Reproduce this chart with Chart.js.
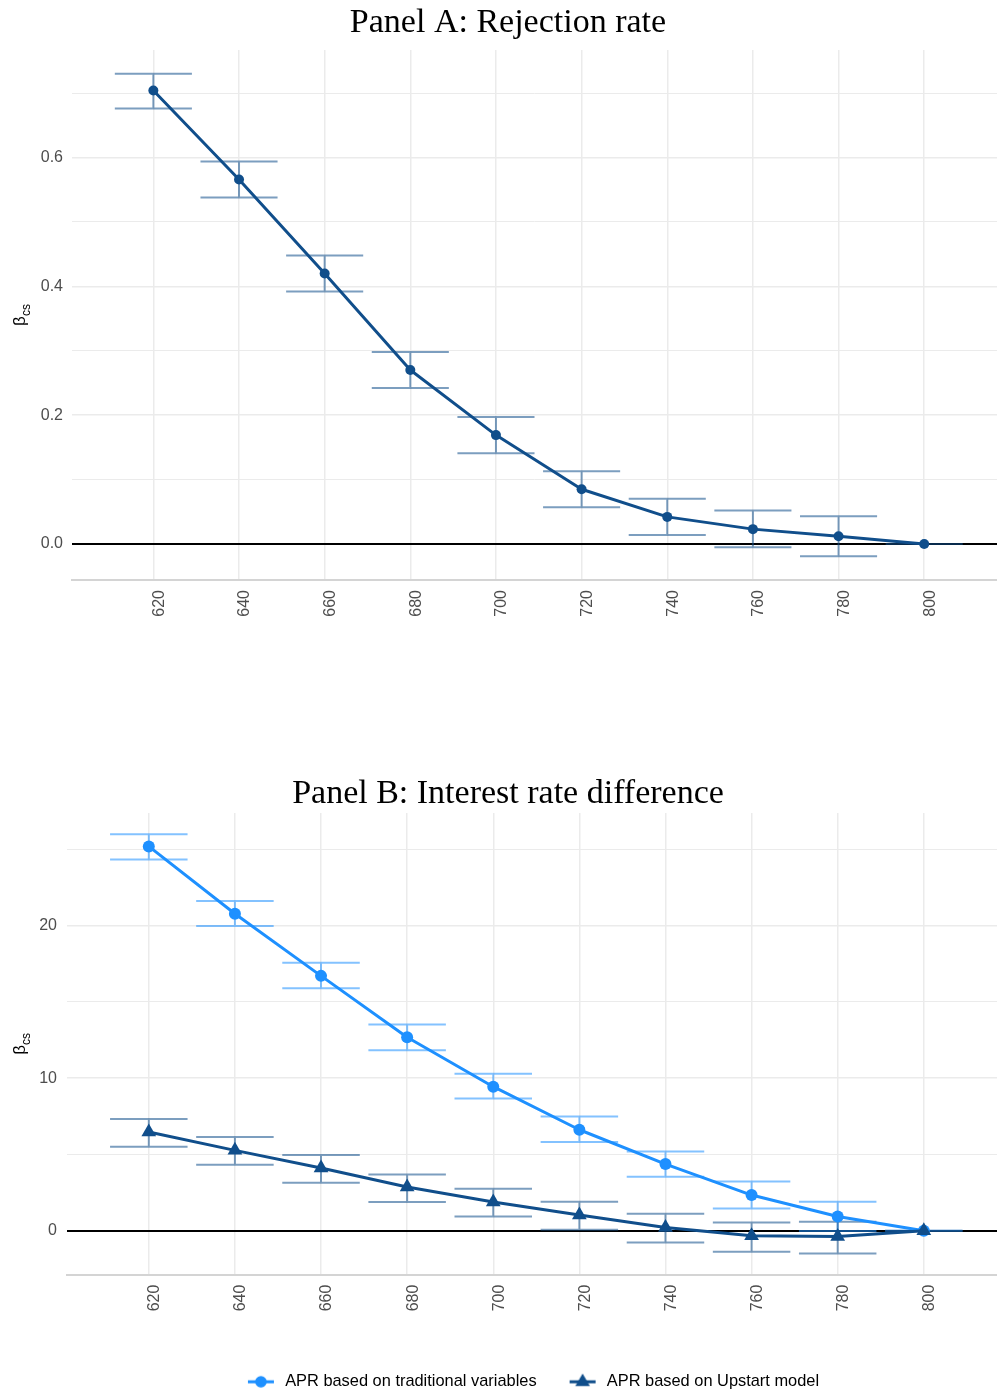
<!DOCTYPE html>
<html>
<head>
<meta charset="utf-8">
<script src="https://cdn.jsdelivr.net/npm/chart.js@4.4.1/dist/chart.umd.min.js"></script>
<style>
  html, body { margin: 0; padding: 0; background: #fff; overflow: hidden; width: 997px; height: 1390px; }
  canvas { position: absolute; left: 0; }
  #panelA { top: 0; }
  #panelB { top: 770px; }
</style>
</head>
<body>
<canvas id="panelA" width="997" height="660"></canvas>
<canvas id="panelB" width="997" height="630"></canvas>
<script>
// Credit score bins (x axis)
const creditScores = [620, 640, 660, 680, 700, 720, 740, 760, 780, 800];

// Panel A: rejection rate coefficients and confidence bounds
const rejectEst = [0.704, 0.566, 0.420, 0.270, 0.169, 0.085, 0.042, 0.023, 0.012, 0];
const rejectLo  = [0.676, 0.538, 0.392, 0.242, 0.141, 0.057, 0.014, -0.005, -0.019, 0];
const rejectHi  = [0.730, 0.594, 0.448, 0.298, 0.197, 0.113, 0.070, 0.052, 0.043, 0];

// Panel B: interest rate difference, traditional-variable APR
const tradEst = [25.18, 20.77, 16.70, 12.68, 9.44, 6.62, 4.37, 2.34, 0.94, 0];
const tradLo  = [24.33, 19.97, 15.89, 11.82, 8.66, 5.82, 3.54, 1.46, -0.02, 0];
const tradHi  = [25.97, 21.60, 17.56, 13.51, 10.28, 7.48, 5.20, 3.23, 1.90, 0];

// Panel B: interest rate difference, Upstart-model APR
const upEst = [6.47, 5.27, 4.11, 2.87, 1.88, 1.03, 0.22, -0.33, -0.37, 0];
const upLo  = [5.51, 4.33, 3.15, 1.88, 0.94, 0.07, -0.77, -1.38, -1.49, 0];
const upHi  = [7.32, 6.14, 4.96, 3.69, 2.75, 1.90, 1.11, 0.55, 0.59, 0];

const seriesNames = ['APR based on traditional variables', 'APR based on Upstart model'];

// Y tick values and labels (blank label = minor grid line)
const yTicksA  = [0, 0.1, 0.2, 0.3, 0.4, 0.5, 0.6, 0.7];
const yLabelsA = ['0.0', '', '0.2', '', '0.4', '', '0.6', ''];
const yTicksB  = [0, 5, 10, 15, 20, 25];
const yLabelsB = ['0', '', '10', '', '20', ''];

// ---- styling ----
const DARK = '#104E8B';
const LIGHT = '#1E90FF';
const DARK_ERR = 'rgba(16,78,139,0.55)';
const LIGHT_ERR = 'rgba(30,144,255,0.55)';
const GRID = '#ebebeb';
const TICK_COLOR = '#4d4d4d';
const SANS = 'Liberation Sans';
const ERR_HALF = 9; // half-width of error bar caps, in score units

function seriesPoints(est) {
  return creditScores.map((s, i) => ({ x: s, y: est[i] }));
}

// Error bars as broken line paths: top cap, stem, bottom cap
function errorBarPoints(lo, hi) {
  const pts = [];
  creditScores.forEach((s, i) => {
    pts.push({ x: s - ERR_HALF, y: hi[i] }, { x: s + ERR_HALF, y: hi[i] }, { x: s, y: null });
    pts.push({ x: s, y: hi[i] }, { x: s, y: lo[i] }, { x: s, y: null });
    pts.push({ x: s - ERR_HALF, y: lo[i] }, { x: s + ERR_HALF, y: lo[i] }, { x: s, y: null });
  });
  return pts;
}

function legendIcon(color, shape) {
  const c = document.createElement('canvas');
  c.width = 30; c.height = 18;
  const g = c.getContext('2d');
  g.strokeStyle = color; g.lineWidth = 3;
  g.beginPath(); g.moveTo(2, 9); g.lineTo(28, 9); g.stroke();
  g.fillStyle = color; g.beginPath();
  if (shape === 'circle') {
    g.arc(15, 9, 5.8, 0, Math.PI * 2);
  } else {
    g.moveTo(15, 0.8); g.lineTo(22.3, 13.3); g.lineTo(7.7, 13.3); g.closePath();
  }
  g.fill();
  return c;
}

function xScaleOpts(axisHeight) {
  return {
    type: 'linear', min: 601, max: 817,
    afterBuildTicks: s => { s.ticks = creditScores.map(v => ({ value: v })); },
    afterFit: s => { s.height = axisHeight; s.paddingLeft = 0; s.paddingRight = 0; },
    grid: { color: GRID, lineWidth: 1.5, drawTicks: false },
    border: { display: true, color: '#d4d4d4', width: 2 },
    ticks: {
      autoSkip: false, minRotation: 90, maxRotation: 90, padding: 10, labelOffset: 6,
      color: TICK_COLOR, font: { family: SANS, size: 16 },
      callback: v => String(v)
    }
  };
}

function yScaleOpts(min, max, ticks, labels, width, pad) {
  return {
    type: 'linear', min, max,
    afterBuildTicks: s => { s.ticks = ticks.map(v => ({ value: v })); },
    afterFit: s => { s.width = width; s.paddingTop = 0; s.paddingBottom = 0; },
    grid: {
      drawTicks: false,
      color: c => (c.tick && c.tick.value === 0) ? '#000' : GRID,
      lineWidth: c => (c.tick && c.tick.value === 0) ? 2 : (labels[c.index] ? 1.5 : 1)
    },
    border: { display: false },
    ticks: {
      padding: pad, color: TICK_COLOR, font: { family: SANS, size: 16 },
      callback: (v, i) => labels[i]
    }
  };
}

// Panel heading and the rotated beta_cs axis label
const panelText = {
  id: 'panelText',
  afterDraw(chart, args, opts) {
    const ctx = chart.ctx;
    ctx.save();
    ctx.fillStyle = '#000';
    ctx.font = '34px "Liberation Serif"';
    ctx.textAlign = 'center';
    ctx.textBaseline = 'alphabetic';
    ctx.fillText(opts.title, opts.titleX, opts.titleY);

    const a = chart.chartArea;
    ctx.translate(opts.labelX, (a.top + a.bottom) / 2);
    ctx.rotate(-Math.PI / 2);
    ctx.textAlign = 'left';
    ctx.font = '17px "Liberation Sans"';
    const wB = ctx.measureText('β').width;
    ctx.font = '12px "Liberation Sans"';
    const wS = ctx.measureText('cs').width;
    const start = -(wB + wS) / 2;
    ctx.font = '17px "Liberation Sans"';
    ctx.fillText('β', start, 4);
    ctx.font = '12px "Liberation Sans"';
    ctx.fillText('cs', start + wB, 9);
    ctx.restore();
  }
};

const lineStyle = { showLine: true, borderWidth: 3, borderJoinStyle: 'round', pointBorderWidth: 0, pointHoverRadius: 0 };
const errStyle = { showLine: true, borderWidth: 2, pointRadius: 0, pointHoverRadius: 0 };

// ---- Panel A ----
new Chart(document.getElementById('panelA'), {
  type: 'scatter',
  data: {
    datasets: [
      Object.assign({ data: seriesPoints(rejectEst), borderColor: DARK, backgroundColor: DARK, pointRadius: 5, order: 1 }, lineStyle),
      Object.assign({ data: errorBarPoints(rejectLo, rejectHi), borderColor: DARK_ERR, order: 2 }, errStyle)
    ]
  },
  options: {
    responsive: false, animation: false, events: [],
    layout: { autoPadding: false, padding: { top: 50, left: 0, right: 0, bottom: 0 } },
    scales: {
      x: xScaleOpts(80),
      y: yScaleOpts(-0.056, 0.767, yTicksA, yLabelsA, 72, 9)
    },
    plugins: {
      legend: { display: false },
      tooltip: { enabled: false },
      panelText: { title: 'Panel A: Rejection rate', titleX: 508, titleY: 32, labelX: 21 }
    }
  },
  plugins: [panelText]
});

// ---- Panel B ----
new Chart(document.getElementById('panelB'), {
  type: 'scatter',
  data: {
    datasets: [
      Object.assign({ label: seriesNames[0], data: seriesPoints(tradEst), borderColor: LIGHT, backgroundColor: LIGHT,
        pointStyle: 'circle', pointRadius: 6, order: 1, legendIcon: legendIcon(LIGHT, 'circle') }, lineStyle),
      Object.assign({ label: seriesNames[1], data: seriesPoints(upEst), borderColor: DARK, backgroundColor: DARK,
        pointStyle: 'triangle', pointRadius: 8.5, order: 0, legendIcon: legendIcon(DARK, 'triangle') }, lineStyle),
      Object.assign({ data: errorBarPoints(tradLo, tradHi), borderColor: LIGHT_ERR, order: 3 }, errStyle),
      Object.assign({ data: errorBarPoints(upLo, upHi), borderColor: DARK_ERR, order: 2 }, errStyle)
    ]
  },
  options: {
    responsive: false, animation: false, events: [],
    layout: { autoPadding: false, padding: { top: 43, left: 0, right: 0, bottom: 0 } },
    scales: {
      x: xScaleOpts(69),
      y: yScaleOpts(-2.87, 27.37, yTicksB, yLabelsB, 67, 10)
    },
    plugins: {
      tooltip: { enabled: false },
      legend: {
        position: 'bottom', align: 'center', fullSize: false,
        labels: {
          usePointStyle: true, pointStyleWidth: 32, padding: 30,
          color: '#1a1a1a', font: { family: SANS, size: 16.4 },
          generateLabels: chart => chart.data.datasets
            .map((ds, i) => ({ ds, i }))
            .filter(o => o.ds.legendIcon)
            .map(o => ({
              text: o.ds.label, pointStyle: o.ds.legendIcon, datasetIndex: o.i,
              hidden: false, lineWidth: 0, strokeStyle: 'rgba(0,0,0,0)', fillStyle: o.ds.borderColor
            }))
        }
      },
      panelText: { title: 'Panel B: Interest rate difference', titleX: 508, titleY: 33, labelX: 21 }
    }
  },
  plugins: [panelText]
});
</script>
</body>
</html>
